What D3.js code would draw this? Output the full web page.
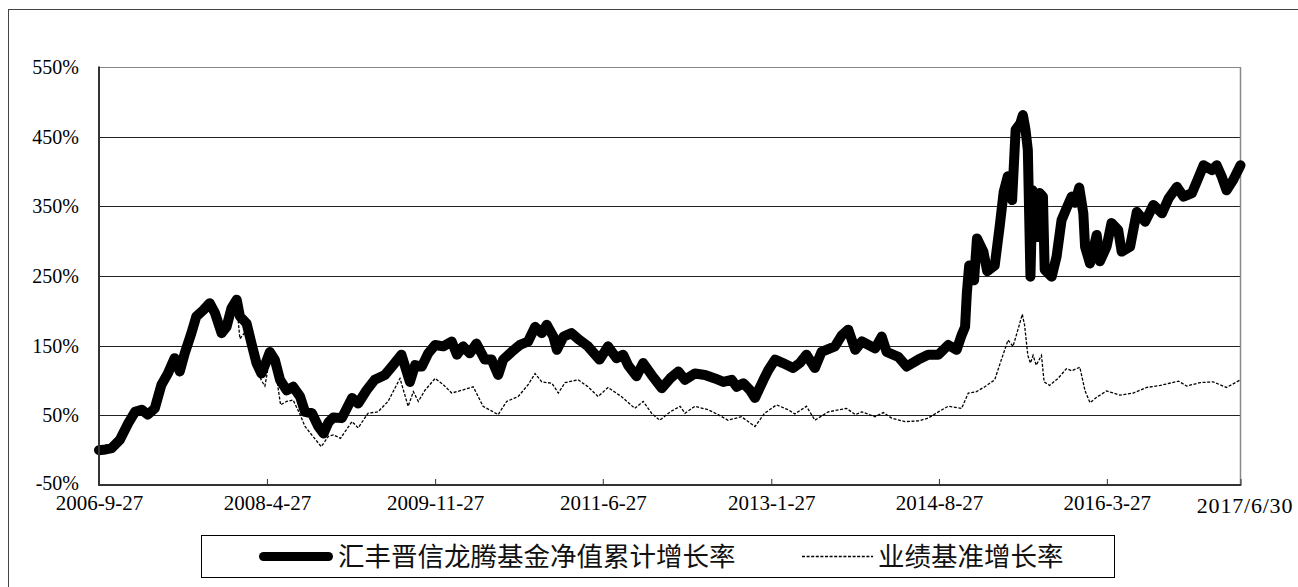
<!DOCTYPE html>
<html><head><meta charset="utf-8">
<script src="https://cdn.jsdelivr.net/npm/d3@7"></script>
<style>body{margin:0;background:#fff}svg{display:block}</style>
</head><body><svg id="c" width="1298" height="587"></svg>
<script>
const xTickLabels = ["2006-9-27","2008-4-27","2009-11-27","2011-6-27","2013-1-27","2014-8-27","2016-3-27","2017/6/30"];
const yTicks = [-50,50,150,250,350,450,550];
const seriesNames = ["汇丰晋信龙腾基金净值累计增长率","业绩基准增长率"];

const fundDates = ["2006-09-27","2006-10-20","2006-11-10","2006-12-08","2007-01-06","2007-01-29","2007-02-21","2007-03-14","2007-04-07","2007-04-30","2007-05-22","2007-06-14","2007-07-02","2007-07-19","2007-08-11","2007-08-28","2007-09-21","2007-10-13","2007-10-31","2007-11-23","2007-12-10","2007-12-27","2008-01-14","2008-01-25","2008-02-17","2008-03-05","2008-03-22","2008-04-08","2008-04-20","2008-05-07","2008-05-24","2008-06-11","2008-07-04","2008-07-26","2008-08-19","2008-09-05","2008-09-29","2008-10-21","2008-11-08","2008-11-25","2008-12-12","2009-01-10","2009-02-14","2009-03-07","2009-04-05","2009-05-03","2009-06-07","2009-07-05","2009-08-03","2009-09-01","2009-09-19","2009-10-12","2009-11-03","2009-11-27","2009-12-25","2010-01-23","2010-02-10","2010-03-03","2010-03-26","2010-04-18","2010-05-17","2010-06-09","2010-07-02","2010-07-19","2010-08-17","2010-09-15","2010-10-13","2010-11-06","2010-11-29","2010-12-16","2011-01-08","2011-01-20","2011-02-12","2011-03-11","2011-04-08","2011-05-07","2011-06-16","2011-07-15","2011-08-13","2011-09-05","2011-09-22","2011-10-21","2011-11-13","2011-12-12","2012-01-16","2012-02-14","2012-03-13","2012-04-05","2012-05-09","2012-06-13","2012-07-17","2012-08-15","2012-09-13","2012-09-30","2012-10-23","2012-11-15","2012-12-02","2012-12-31","2013-01-17","2013-02-09","2013-03-08","2013-04-12","2013-05-05","2013-05-28","2013-06-26","2013-07-19","2013-09-03","2013-09-27","2013-10-19","2013-11-12","2013-12-05","2014-01-19","2014-02-11","2014-02-28","2014-04-09","2014-05-08","2014-06-17","2014-07-21","2014-08-25","2014-09-28","2014-10-27","2014-11-13","2014-11-25","2014-12-01","2014-12-09","2014-12-26","2015-01-05","2015-01-27","2015-02-09","2015-03-07","2015-03-24","2015-04-07","2015-04-21","2015-05-06","2015-05-18","2015-06-03","2015-06-12","2015-06-21","2015-06-29","2015-07-08","2015-07-15","2015-07-26","2015-08-03","2015-08-09","2015-08-20","2015-08-26","2015-09-19","2015-10-06","2015-10-23","2015-11-09","2015-11-27","2015-12-08","2015-12-23","2016-01-06","2016-01-12","2016-01-29","2016-02-21","2016-03-03","2016-03-26","2016-04-12","2016-05-05","2016-05-17","2016-06-15","2016-07-08","2016-08-06","2016-09-03","2016-10-03","2016-10-25","2016-11-23","2016-12-16","2017-01-14","2017-02-06","2017-02-23","2017-03-24","2017-04-09","2017-04-27","2017-05-13","2017-06-05","2017-06-30"];
const fundValues = [0,1,3,15,39,55,58,51,60,94,110,132,113,139,168,192,201,211,197,168,177,204,216,192,182,153,125,110,122,141,130,101,86,91,77,55,53,34,24,40,47,46,75,67,86,101,108,122,137,98,122,120,139,151,149,156,137,149,139,153,130,130,108,130,141,151,156,177,168,180,163,144,163,168,158,149,130,149,132,137,122,106,125,108,89,103,113,101,110,108,103,98,101,91,96,86,75,101,115,130,125,118,125,137,118,141,149,165,173,144,156,146,163,141,134,120,130,137,137,151,144,165,177,225,265,244,304,285,257,265,321,371,393,359,460,469,481,460,431,249,373,359,306,369,364,259,249,278,330,347,364,355,377,340,292,268,309,271,292,326,316,285,292,342,328,352,340,361,378,364,369,392,409,402,409,392,373,388,409];

const benchDates = ["2006-09-27","2006-10-20","2006-11-10","2006-12-08","2007-01-06","2007-01-29","2007-02-21","2007-03-14","2007-04-07","2007-04-30","2007-05-22","2007-06-14","2007-07-02","2007-07-19","2007-08-11","2007-08-28","2007-09-21","2007-10-13","2007-10-31","2007-11-23","2007-12-10","2007-12-27","2008-01-14","2008-01-25","2008-02-17","2008-03-05","2008-03-22","2008-04-08","2008-04-20","2008-05-07","2008-05-24","2008-06-13","2008-07-04","2008-07-26","2008-08-17","2008-09-05","2008-10-02","2008-10-31","2008-11-25","2008-12-12","2009-01-05","2009-02-14","2009-03-07","2009-04-10","2009-05-14","2009-06-18","2009-07-29","2009-08-26","2009-09-13","2009-09-30","2009-10-23","2009-11-27","2009-12-25","2010-01-23","2010-02-27","2010-04-07","2010-05-11","2010-07-02","2010-07-31","2010-09-09","2010-10-13","2010-11-06","2010-11-29","2011-01-03","2011-01-25","2011-02-17","2011-04-03","2011-05-07","2011-06-11","2011-07-15","2011-08-30","2011-10-15","2011-11-13","2011-12-12","2012-01-09","2012-02-14","2012-03-19","2012-04-05","2012-05-09","2012-06-24","2012-07-28","2012-08-31","2012-10-16","2012-12-02","2013-01-04","2013-02-14","2013-03-26","2013-04-18","2013-05-28","2013-06-26","2013-08-11","2013-10-13","2013-11-12","2013-12-05","2014-01-19","2014-02-17","2014-03-17","2014-05-02","2014-06-17","2014-07-21","2014-08-25","2014-09-28","2014-11-13","2014-12-06","2015-01-03","2015-02-01","2015-03-07","2015-03-30","2015-04-22","2015-05-09","2015-05-26","2015-06-10","2015-06-18","2015-06-29","2015-07-08","2015-07-17","2015-07-28","2015-08-15","2015-08-24","2015-09-12","2015-10-11","2015-11-09","2015-11-27","2015-12-25","2016-01-12","2016-01-29","2016-02-21","2016-03-26","2016-05-11","2016-06-26","2016-08-11","2016-09-27","2016-11-29","2016-12-27","2017-02-11","2017-03-28","2017-05-13","2017-06-30"];
const benchValues = [0,1,2,13,36,51,54,48,56,89,104,126,108,133,161,185,194,205,190,162,170,196,208,160,172,148,118,100,92,132,122,65,70,72,53,34,20,5,20,22,17,41,32,53,55,70,103,63,84,70,86,103,94,82,86,91,63,51,70,77,94,110,98,96,82,97,101,91,77,90,77,60,70,53,43,55,63,53,63,58,51,43,48,34,53,65,58,52,63,43,55,60,51,55,48,54,46,41,42,46,55,63,60,82,84,91,101,130,158,149,173,195,179,136,125,136,122,136,98,93,103,117,114,119,85,68,76,85,79,82,90,93,99,92,97,98,90,101];

function parseDate(s){const p=s.split(/[-\/]/).map(Number);return new Date(p[0],p[1]-1,p[2]);}

const svg = d3.select("#c");
const L=99, R=1240.5, T=67, B=485;
const x = d3.scaleTime().domain([parseDate("2006-09-27"), parseDate("2017-06-30")]).range([L,R]);
const y = d3.scaleLinear().domain([-50,550]).range([B,T]);

// outer frame
svg.append("rect").attr("x",8.5).attr("y",9.5).attr("width",1310).attr("height",620)
  .attr("fill","none").attr("stroke","#444").attr("stroke-width",1);

// gridlines
svg.append("g").selectAll("line").data(yTicks.filter(v=>v>-50)).join("line")
  .attr("x1",L).attr("x2",R)
  .attr("y1",d=>Math.round(y(d))+0.5).attr("y2",d=>Math.round(y(d))+0.5)
  .attr("stroke",d=>d===550?"#888":"#222").attr("stroke-width",1);

// right border
svg.append("line").attr("x1",R).attr("x2",R).attr("y1",T).attr("y2",B)
  .attr("stroke","#888").attr("stroke-width",1.5);

// y axis labels
const yAxis = d3.axisLeft(y).tickValues(yTicks).tickFormat(d=>d+"%").tickSize(0).tickPadding(20);
const gy = svg.append("g").attr("transform",`translate(${L},0)`).call(yAxis);
gy.select(".domain").remove();
gy.selectAll("text").attr("font-family","'Liberation Serif','Times New Roman',serif")
  .attr("font-size",20).attr("fill","#000");
gy.selectAll(".tick").filter(d=>d===-50).select("text").attr("dy","0.22em");

// x axis
const xTickDates = xTickLabels.map(parseDate);
const xAxis = d3.axisBottom(x).tickValues(xTickDates)
  .tickFormat((d,i)=>xTickLabels[i]).tickSizeInner(-6).tickSizeOuter(0).tickPadding(10);
const gx = svg.append("g").attr("transform",`translate(0,${B})`).call(xAxis);
gx.select(".domain").remove();
gx.selectAll(".tick line").attr("stroke","#333").attr("stroke-width",1);
gx.selectAll(".tick").filter((d,i)=>i===0).select("line").remove();
gx.selectAll("text").attr("font-family","'Liberation Serif','Times New Roman',serif")
  .attr("font-size",21).attr("fill","#000");
gx.selectAll(".tick").filter((d,i)=>i===xTickLabels.length-1).select("text")
  .attr("font-size",22).attr("letter-spacing",0.8).attr("dx",4).attr("y",12);

// series
const fund = fundDates.map((d,i)=>({d:parseDate(d),v:fundValues[i]}));
const bench = benchDates.map((d,i)=>({d:parseDate(d),v:benchValues[i]}));
const line = d3.line().x(p=>x(p.d)).y(p=>y(p.v));

svg.append("path").datum(fund).attr("d",line).attr("fill","none")
  .attr("stroke","#000").attr("stroke-width",10)
  .attr("stroke-linejoin","round").attr("stroke-linecap","round");
svg.append("path").datum(bench).attr("d",line).attr("fill","none")
  .attr("stroke","#000").attr("stroke-width",1.3).attr("stroke-dasharray","3,1.6");

// axes lines
svg.append("line").attr("x1",L).attr("x2",L).attr("y1",T-0.5).attr("y2",B+1)
  .attr("stroke","#333").attr("stroke-width",2);
svg.append("line").attr("x1",L-1).attr("x2",R+0.75).attr("y1",B).attr("y2",B)
  .attr("stroke","#333").attr("stroke-width",2);

// legend
const lg = svg.append("g");
lg.append("rect").attr("x",201.5).attr("y",535.5).attr("width",913).attr("height",42)
  .attr("fill","#fff").attr("stroke","#000").attr("stroke-width",1);
lg.append("line").attr("x1",263.5).attr("x2",328.5).attr("y1",556.5).attr("y2",556.5)
  .attr("stroke","#000").attr("stroke-width",9).attr("stroke-linecap","round");
lg.append("text").attr("x",338).attr("y",566).text(seriesNames[0])
  .attr("font-family","'Noto Sans CJK SC',sans-serif").attr("font-size",26.5).attr("fill","#111");
lg.append("line").attr("x1",802).attr("x2",873).attr("y1",556.5).attr("y2",556.5)
  .attr("stroke","#000").attr("stroke-width",1.3).attr("stroke-dasharray","3,1.6");
lg.append("text").attr("x",878).attr("y",566).text(seriesNames[1])
  .attr("font-family","'Noto Sans CJK SC',sans-serif").attr("font-size",26.5).attr("fill","#111");
</script>
</body></html>
